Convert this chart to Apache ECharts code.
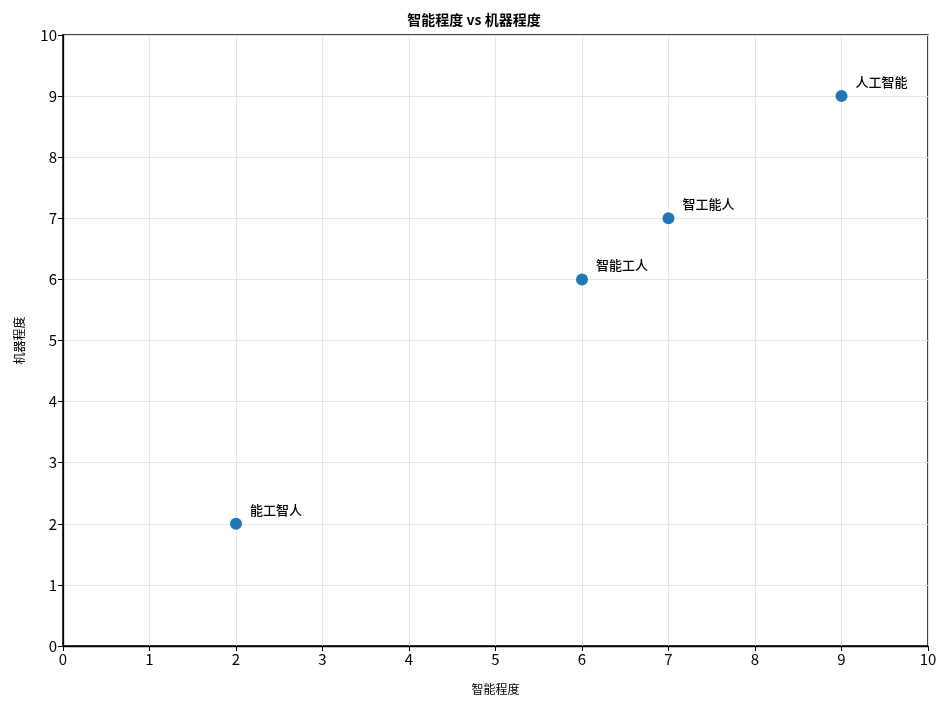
<!DOCTYPE html>
<html><head><meta charset="utf-8">
<script src="https://cdn.jsdelivr.net/npm/echarts@6/dist/echarts.min.js"></script>
<style>html,body{margin:0;padding:0;background:#fff}#c{width:948px;height:708px}</style>
</head><body><div id="c"></div>
<script>
const names = ['能工智人', '智能工人', '智工能人', '人工智能'];
const intelligence = [2, 6, 7, 9];
const machine = [2, 6, 7, 9];
const xTicks = [0,1,2,3,4,5,6,7,8,9,10];
const yTicks = [0,1,2,3,4,5,6,7,8,9,10];

const font = '"Noto Sans CJK SC", "Noto Sans", sans-serif';
const data = names.map((n, i) => ({ name: n, value: [intelligence[i], machine[i]] }));
const chart = echarts.init(document.getElementById('c'));
const axisCommon = {
  min: xTicks[0], max: xTicks[xTicks.length-1], interval: 1,
  axisLine: { show: true, onZero: false, lineStyle: { color: '#000', width: 1.3 } },
  axisTick: { show: true, inside: false, length: 5, lineStyle: { color: '#000' } },
  axisLabel: { color: '#000', fontSize: 15, fontFamily: font, margin: 6 },
  splitLine: { show: true, lineStyle: { color: '#e6e6e6', width: 1 } },
  nameTextStyle: { color: '#000', fontSize: 12, fontFamily: font }
};
chart.setOption({
  backgroundColor: '#fff',
  title: { text: '智能程度 vs 机器程度', left: 'center', top: 8,
    textStyle: { fontSize: 14, fontWeight: 'bold', color: '#000', fontFamily: font } },
  grid: { left: 63, right: 20, top: 35, bottom: 62, show: true, borderColor: '#000', borderWidth: 1.5, containLabel: false },
  xAxis: Object.assign({}, axisCommon, { type: 'value', name: '智能程度', nameLocation: 'middle', nameGap: 37 }),
  yAxis: Object.assign({}, axisCommon, { type: 'value', min: yTicks[0], max: yTicks[yTicks.length-1], name: '机器程度', nameLocation: 'middle', nameGap: 38, nameRotate: 90 }),
  series: [{
    type: 'scatter', data: data, symbolSize: 12,
    itemStyle: { color: '#1f77b4', opacity: 1 },
    label: { show: true, formatter: p => p.name, position: 'right', distance: 5, offset: [3, -14],
      color: '#000', fontSize: 13, fontWeight: 500, fontFamily: font }
  }]
});
</script></body></html>
